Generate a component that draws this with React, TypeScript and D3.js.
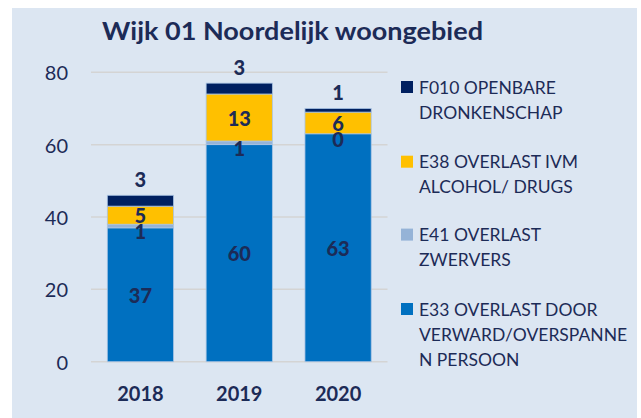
import React from "react";
import * as d3 from "d3";

const years = ["2018", "2019", "2020"];
const seriesKeys = ["E33", "E41", "E38", "F010"];
const e33Values = [37, 60, 63];
const e41Values = [1, 1, 0];
const e38Values = [5, 13, 6];
const f010Values = [3, 3, 1];
const seriesColors = ["#0070C0", "#95B3D7", "#FFC000", "#002060"];
const legendLines = [
  ["F010 OPENBARE", "DRONKENSCHAP"],
  ["E38 OVERLAST IVM", "ALCOHOL/ DRUGS"],
  ["E41 OVERLAST", "ZWERVERS"],
  ["E33 OVERLAST DOOR", "VERWARD/OVERSPANNE", "N PERSOON"],
];
const legendColors = ["#002060", "#FFC000", "#95B3D7", "#0070C0"];
const yTicks = [0, 20, 40, 60, 80];
const title = "Wijk 01 Noordelijk woongebied";

const W = 641;
const H = 418;
const textColor = "#1C2B57";
const font = "Lato, 'Open Sans', sans-serif";

export default function App() {
  const x = d3.scaleBand().domain(years).range([91, 387.5]).paddingInner(0.33).paddingOuter(0.165);
  const y = d3.scaleLinear().domain([0, 80]).range([361.7, 72.3]);

  const rows = years.map((yr, i) => ({
    year: yr,
    E33: e33Values[i],
    E41: e41Values[i],
    E38: e38Values[i],
    F010: f010Values[i],
  }));
  const stacked = d3.stack<any>().keys(seriesKeys)(rows);

  return (
    <svg width={W} height={H} style={{ position: "absolute", left: 0, top: 0 }} fontFamily={font}>
      <rect x={12} y={8} width={625} height={410} fill="#DCE6F2" />
      <text
        x={102}
        y={39.5}
        textLength={381}
        lengthAdjust="spacingAndGlyphs"
        fontSize={24}
        fontWeight="bold"
        fill={textColor}
      >
        {title}
      </text>
      {yTicks.map((t) => (
        <g key={t}>
          <line x1={91} x2={387.5} y1={y(t)} y2={y(t)} stroke="#D4D4D4" strokeWidth={1.5} />
          <text x={68} y={y(t)} textAnchor="end" dominantBaseline="central" fontSize={20} fill={textColor}>
            {t}
          </text>
        </g>
      ))}
      {stacked.map((layer, si) => (
        <g key={layer.key}>
          {layer.map((d, i) => (
            <rect
              key={i}
              x={x(years[i])!}
              width={x.bandwidth()}
              y={y(d[1])}
              height={y(d[0]) - y(d[1])}
              fill={seriesColors[si]}
              stroke="#A9C4E4"
              strokeWidth={0.8}
            />
          ))}
        </g>
      ))}
      {stacked.map((layer) =>
        layer.map((d, i) => {
          const v = d[1] - d[0];
          let cy = y((d[0] + d[1]) / 2);
          if (layer.key === "F010") cy = y(d[1]) - 16;
          if (layer.key === "E41") cy = cy + 5;
          return (
            <text
              key={layer.key + i}
              x={x(years[i])! + x.bandwidth() / 2}
              y={cy}
              textAnchor="middle"
              dominantBaseline="central"
              fontSize={20}
              fontWeight={900}
              fill={textColor}
            >
              {v}
            </text>
          );
        })
      )}
      {years.map((yr) => (
        <text
          key={yr}
          x={x(yr)! + x.bandwidth() / 2}
          y={393}
          textAnchor="middle"
          dominantBaseline="central"
          fontSize={20}
          fontWeight="bold"
          fill={textColor}
        >
          {yr}
        </text>
      ))}
      {legendLines.map((lines, li) => {
        const top = [87, 161.7, 234.6, 309][li];
        return (
          <g key={li}>
            <rect x={401} y={top - 6} width={12} height={12} fill={legendColors[li]} />
            {lines.map((ln, k) => (
              <text key={k} x={419} y={top + k * 25} dominantBaseline="central" fontSize={17.5} fill={textColor}>
                {ln}
              </text>
            ))}
          </g>
        );
      })}
    </svg>
  );
}
